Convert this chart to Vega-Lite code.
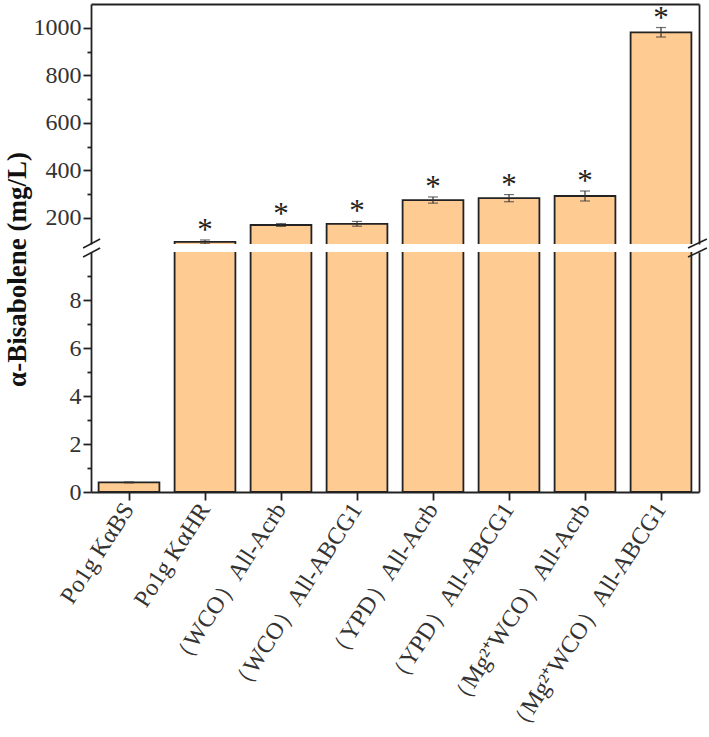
{
  "$schema": "https://vega.github.io/schema/vega-lite/v6.json",
  "usermeta": {"embedOptions": {"actions": false}},
  "background": "white",
  "padding": {"left": 3, "top": 4, "right": 0, "bottom": 2},
  "config": {"font": "Liberation Serif", "view": {"stroke": null}, "axis": {"grid": false}},
  "data": {
    "values": [
      {"name": "Po1g KαBS", "value": 0.4, "err": 0.02},
      {"name": "Po1g KαHR", "value": 99, "err": 8},
      {"name": "（WCO）All-Acrb", "value": 170, "err": 6},
      {"name": "（WCO）All-ABCG1", "value": 175, "err": 10},
      {"name": "（YPD）All-Acrb", "value": 275, "err": 13},
      {"name": "（YPD）All-ABCG1", "value": 283, "err": 15},
      {"name": "（Mg²⁺WCO）All-Acrb", "value": 292, "err": 21},
      {"name": "（Mg²⁺WCO）All-ABCG1", "value": 981, "err": 20}
    ]
  },
  "spacing": 8,
  "bounds": "flush",
  "vconcat": [
    {
      "width": 608,
      "height": 240,
      "resolve": {"scale": {"x": "independent"}, "axis": {"y": "independent", "x": "independent"}},
      "layer": [
        {
          "mark": {"type": "bar", "fill": "#FECB92", "stroke": "#222222", "strokeWidth": 1.8, "clip": true},
          "encoding": {
            "x": {"field": "name", "type": "nominal", "sort": null,
              "scale": {"paddingInner": 0.2, "paddingOuter": 0.1},
              "axis": {"orient": "top", "labels": false, "ticks": false, "title": null, "domainColor": "#222222", "domainWidth": 1.8}},
            "y": {"field": "value", "type": "quantitative",
              "scale": {"domain": [90, 1100], "nice": false, "zero": false},
              "axis": {
                "orient": "left",
                "format": "d",
                "values": [200, 300, 400, 500, 600, 700, 800, 900, 1000],
                "labelExpr": "datum.value % 200 === 0 ? datum.label : ''",
                "tickSize": {"condition": {"test": "datum.value % 200 === 0", "value": 8}, "value": 4},
                "tickColor": "#222222", "tickWidth": 1.8,
                "domainColor": "#222222", "domainWidth": 1.8,
                "labelFont": "Liberation Serif", "labelFontSize": 24, "labelColor": "#333333", "labelPadding": 2,
                "title": "α-Bisabolene (mg/L)",
                "titleFont": "Liberation Serif", "titleFontSize": 27, "titleFontWeight": "bold", "titleColor": "#111111",
                "titleX": -60, "titleY": 265, "titleAngle": -90, "titleAlign": "center", "titleBaseline": "bottom"
              }}
          }
        },
        {
          "mark": {"type": "errorbar", "clip": true, "ticks": {"size": 10, "thickness": 1.2, "color": "#333333"}, "rule": {"strokeWidth": 1.2, "color": "#333333"}},
          "encoding": {
            "x": {"field": "name", "type": "nominal", "sort": null, "scale": {"paddingInner": 0.2, "paddingOuter": 0.1}, "axis": null},
            "y": {"field": "value", "type": "quantitative", "scale": {"domain": [90, 1100], "nice": false, "zero": false}, "axis": null},
            "yError": {"field": "err"}
          }
        },
        {
          "transform": [{"calculate": "datum.value + datum.err", "as": "hi"}],
          "mark": {"type": "text", "text": "*", "font": "Liberation Serif", "fontSize": 31, "baseline": "alphabetic", "dy": 0, "color": "#222222", "clip": true},
          "encoding": {
            "x": {"field": "name", "type": "nominal", "sort": null, "scale": {"paddingInner": 0.2, "paddingOuter": 0.1}, "axis": null},
            "y": {"field": "hi", "type": "quantitative", "scale": {"domain": [90, 1100], "nice": false, "zero": false}, "axis": null}
          }
        },
        {
          "data": {"values": [
            {"bx": -0.013, "bx2": 0.015, "by": 73, "by2": 111},
            {"bx": 0.982, "bx2": 1.013, "by": 73, "by2": 111}
          ]},
          "mark": {"type": "rule", "color": "#222222", "strokeWidth": 1.6, "clip": false},
          "encoding": {
            "x": {"field": "bx", "type": "quantitative", "scale": {"domain": [0, 1], "nice": false, "zero": false}, "axis": null},
            "x2": {"field": "bx2"},
            "y": {"field": "by", "type": "quantitative", "scale": {"domain": [90, 1100], "nice": false, "zero": false},
              "axis": {"orient": "right", "labels": false, "ticks": false, "title": null, "domainColor": "#222222", "domainWidth": 1.8}},
            "y2": {"field": "by2"}
          }
        }
      ]
    },
    {
      "width": 608,
      "height": 240,
      "resolve": {"scale": {"x": "independent"}, "axis": {"y": "independent", "x": "independent"}},
      "layer": [
        {
          "mark": {"type": "bar", "fill": "#FECB92", "stroke": "#222222", "strokeWidth": 1.8, "clip": true},
          "encoding": {
            "x": {"field": "name", "type": "nominal", "sort": null,
              "scale": {"paddingInner": 0.2, "paddingOuter": 0.1},
              "axis": {"orient": "bottom", "title": null, "labelAngle": -57, "labelAlign": "right", "labelBaseline": "middle",
                "labelFont": "Liberation Serif", "labelFontSize": 24, "labelColor": "#333333", "labelPadding": 5,
                "tickSize": 8, "tickColor": "#222222", "tickWidth": 1.8,
                "domainColor": "#222222", "domainWidth": 1.8, "labelLimit": 400}},
            "y": {"field": "value", "type": "quantitative",
              "scale": {"domain": [0, 10], "nice": false, "zero": true},
              "axis": {
                "orient": "left",
                "values": [0, 1, 2, 3, 4, 5, 6, 7, 8, 9],
                "labelExpr": "datum.value % 2 === 0 ? datum.label : ''",
                "tickSize": {"condition": {"test": "datum.value % 2 === 0", "value": 8}, "value": 4},
                "tickColor": "#222222", "tickWidth": 1.8,
                "domainColor": "#222222", "domainWidth": 1.8,
                "labelFont": "Liberation Serif", "labelFontSize": 24, "labelColor": "#333333", "labelPadding": 2,
                "title": null
              }}
          }
        },
        {
          "mark": {"type": "errorbar", "clip": true, "ticks": {"size": 10, "thickness": 1.2, "color": "#333333"}, "rule": {"strokeWidth": 1.2, "color": "#333333"}},
          "encoding": {
            "x": {"field": "name", "type": "nominal", "sort": null, "scale": {"paddingInner": 0.2, "paddingOuter": 0.1}, "axis": null},
            "y": {"field": "value", "type": "quantitative", "scale": {"domain": [0, 10], "nice": false, "zero": true}, "axis": null},
            "yError": {"field": "err"}
          }
        },
        {
          "data": {"values": [
            {"bx": -0.013, "bx2": 0.015, "by": 9.79, "by2": 10.17},
            {"bx": 0.982, "bx2": 1.013, "by": 9.79, "by2": 10.17}
          ]},
          "mark": {"type": "rule", "color": "#222222", "strokeWidth": 1.6, "clip": false},
          "encoding": {
            "x": {"field": "bx", "type": "quantitative", "scale": {"domain": [0, 1], "nice": false, "zero": false}, "axis": null},
            "x2": {"field": "bx2"},
            "y": {"field": "by", "type": "quantitative", "scale": {"domain": [0, 10], "nice": false, "zero": false},
              "axis": {"orient": "right", "labels": false, "ticks": false, "title": null, "domainColor": "#222222", "domainWidth": 1.8}},
            "y2": {"field": "by2"}
          }
        }
      ]
    }
  ]
}
